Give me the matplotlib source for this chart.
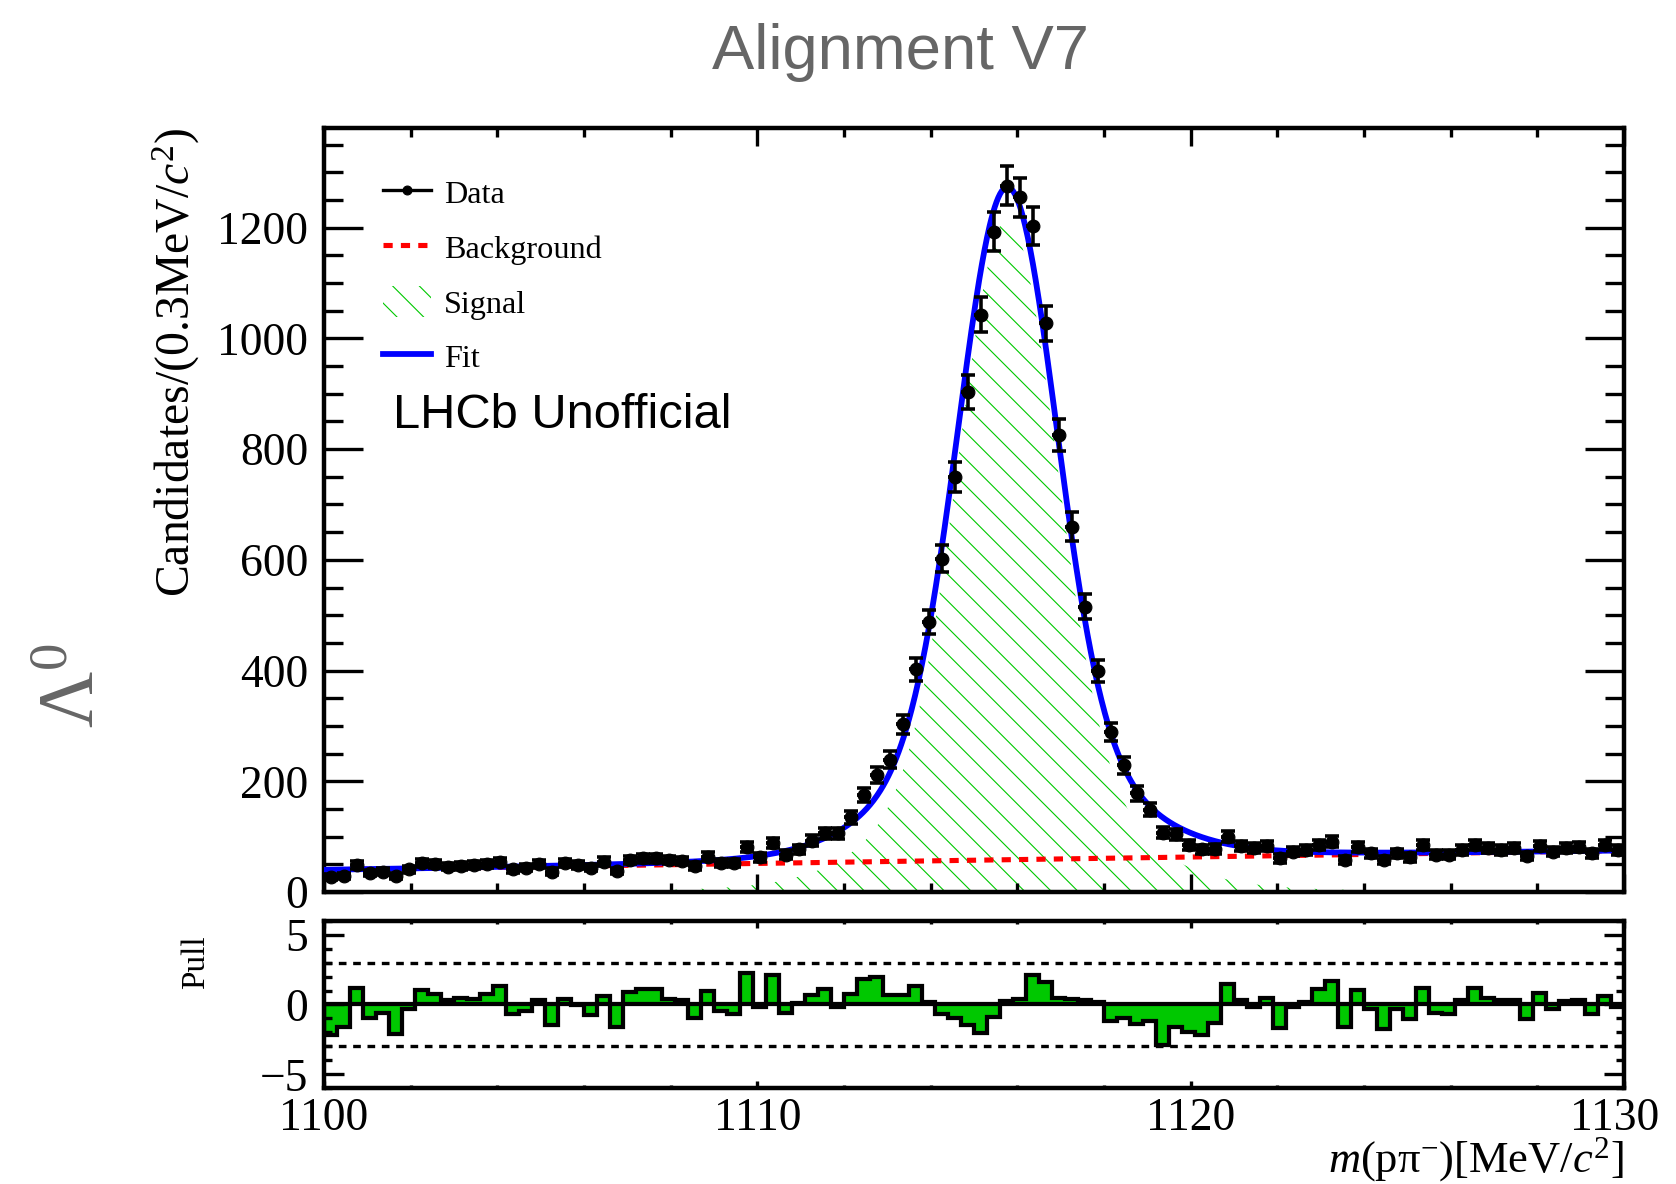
import numpy as np
import matplotlib
matplotlib.use("Agg")
import matplotlib.pyplot as plt
from matplotlib.ticker import MultipleLocator, FixedLocator
from matplotlib.lines import Line2D
from matplotlib.patches import Patch
import matplotlib.transforms as mtransforms

# ---------------- data ----------------
mass_lo, mass_hi, n_bins = 1100.0, 1130.0, 100

counts = [27, 29, 49, 34, 37, 29, 41, 52, 50, 46,
          47, 49, 50, 54, 41, 44, 50, 37, 52, 49,
          44, 55, 38, 58, 61, 61, 58, 56, 47, 64,
          53, 52, 82, 63, 88, 67, 77, 93, 106, 106,
          135, 175, 211, 239, 303, 402, 488, 602, 749, 903,
          1043, 1193, 1276, 1255, 1203, 1027, 826, 660, 515, 399,
          289, 229, 178, 149, 107, 104, 85, 77, 78, 100,
          83, 79, 83, 61, 73, 76, 85, 91, 58, 82,
          70, 58, 70, 63, 85, 67, 67, 76, 85, 79,
          76, 79, 65, 83, 73, 79, 82, 70, 85, 76]

pulls = [-2.2, -1.6, 1.2, -1.0, -0.6, -2.1, -0.3, 1.05, 0.75, 0.3,
         0.5, 0.4, 0.75, 1.3, -0.65, -0.5, 0.3, -1.45, 0.4, -0.05,
         -0.75, 0.6, -1.6, 0.9, 1.1, 1.1, 0.4, 0.3, -0.95, 0.95,
         -0.5, -0.65, 2.25, -0.2, 2.1, -0.6, 0.1, 0.65, 1.1, -0.2,
         0.75, 1.8, 2.0, 0.65, 0.65, 1.3, 0.15, -0.7, -1.0, -1.45,
         -2.05, -0.9, 0.25, 0.4, 2.1, 1.6, 0.5, 0.4, 0.3, 0.2,
         -1.15, -0.95, -1.4, -1.15, -2.9, -1.6, -2.0, -2.15, -1.3, 1.5,
         0.35, -0.15, 0.5, -1.7, -0.2, 0.2, 1.1, 1.7, -1.6, 1.05,
         -0.3, -1.75, -0.3, -1.05, 1.2, -0.6, -0.65, 0.3, 1.15, 0.5,
         0.35, 0.3, -1.05, 0.8, -0.3, 0.25, 0.35, -0.65, 0.6, -0.2]

# fit model parameters (signal: sum of gaussians, background: linear)
sig_mean = 1115.77
sig_peak = 1215.0
gauss_widths = [1.1, 2.2, 5.0]
gauss_fracs = [0.81, 0.18, 0.01]
bkg_at_lo = 40.0
bkg_slope = 1.16

legend_labels = ["Data", "Background", "Signal", "Fit"]
x_tick_labels = [1100, 1110, 1120, 1130]

# ---------------- style ----------------
DPI = 80
W, H = 1676, 1184
plt.rcParams["font.family"] = ["Liberation Serif", "DejaVu Serif"]
plt.rcParams["mathtext.fontset"] = "custom"
plt.rcParams["mathtext.rm"] = "Liberation Serif"
plt.rcParams["mathtext.it"] = "Liberation Serif:italic"
plt.rcParams["mathtext.bf"] = "Liberation Serif:bold"
plt.rcParams["hatch.linewidth"] = 1.0

GREEN = "#00c800"
GREY = "#666666"

fig = plt.figure(figsize=(W / DPI, H / DPI), dpi=DPI)

def fx(px):
    return px / W

def fy(py):
    return 1 - py / H

ax = fig.add_axes([fx(324), fy(892), fx(1300), 764 / H])
axp = fig.add_axes([fx(324), fy(1088.3), fx(1300), 167.6 / H])

edges = np.linspace(mass_lo, mass_hi, n_bins + 1)
centers = 0.5 * (edges[:-1] + edges[1:])
counts_a = np.array(counts, dtype=float)
half_bin = 0.5 * (mass_hi - mass_lo) / n_bins

m = np.linspace(mass_lo, mass_hi, 1501)
sig = np.zeros_like(m)
for w, f in zip(gauss_widths, gauss_fracs):
    sig += sig_peak * f * np.exp(-0.5 * ((m - sig_mean) / w) ** 2)
bkg = bkg_at_lo + bkg_slope * (m - mass_lo)
fit = sig + bkg

# ---------------- main panel ----------------
ax.fill_between(m, 0, sig, facecolor="none", edgecolor=GREEN, hatch="\\", linewidth=0, zorder=1)
ax.plot(m, bkg, color="red", lw=4.6, ls=(0, (1.8, 1.6)), zorder=2)
ax.plot(m, fit, color="blue", lw=5.2, zorder=3)
ax.errorbar(centers, counts_a, xerr=half_bin, fmt="none", ecolor="black",
            elinewidth=3.4, capsize=0, zorder=4)
ax.errorbar(centers, counts_a, yerr=np.sqrt(counts_a), fmt="o", color="black",
            mfc="black", mec="black", ms=11.5, elinewidth=3.2, capsize=6, capthick=3.2, zorder=5)

ax.set_xlim(mass_lo, mass_hi)
ax.set_ylim(0, 1380)
ax.xaxis.set_major_locator(MultipleLocator(10))
ax.xaxis.set_minor_locator(MultipleLocator(2))
ax.yaxis.set_major_locator(MultipleLocator(200))
ax.yaxis.set_minor_locator(MultipleLocator(50))
ax.tick_params(which="both", direction="in", top=True, right=True, width=3,
               labelsize=41, labelbottom=False)
ax.tick_params(axis="x", which="major", length=16)
ax.tick_params(axis="x", which="minor", length=8)
ax.tick_params(axis="y", which="major", length=35, pad=14)
ax.tick_params(axis="y", which="minor", length=17)
for s in ax.spines.values():
    s.set_linewidth(4)

handles = [
    Line2D([], [], color="black", lw=3, marker="o", ms=8),
    Line2D([], [], color="red", lw=4.6, ls=(0, (1.8, 1.6))),
    Patch(facecolor="none", edgecolor=GREEN, hatch="\\", lw=0),
    Line2D([], [], color="blue", lw=5.2),
]
ax.legend(handles, legend_labels, loc="upper left", bbox_to_anchor=(fx(383), fy(177)),
          bbox_transform=fig.transFigure, frameon=False, fontsize=29,
          handlelength=1.5, handletextpad=0.4, labelspacing=0.66, handleheight=1.1,
          borderpad=0, borderaxespad=0)

fig.text(fx(393), fy(428), "LHCb Unofficial", family="Liberation Sans", fontsize=44,
         ha="left", va="baseline", color="black")

# ---------------- pull panel ----------------
axp.stairs(pulls, edges, baseline=0, fill=True, color=GREEN, zorder=1)
axp.stairs(pulls, edges, baseline=0, color="black", lw=3.8, zorder=2)
axp.axhline(0, color="black", lw=3.8, zorder=3)
for lvl in (3, -3):
    axp.axhline(lvl, color="black", lw=3, ls=(0, (2.3, 2.0)), zorder=3)
axp.set_xlim(mass_lo, mass_hi)
axp.set_ylim(-6, 6)
axp.xaxis.set_major_locator(FixedLocator(x_tick_labels))
axp.xaxis.set_minor_locator(MultipleLocator(2))
axp.yaxis.set_major_locator(FixedLocator([-5, 0, 5]))
axp.yaxis.set_minor_locator(MultipleLocator(1))
axp.tick_params(which="both", direction="in", top=True, right=True, width=3, labelsize=41)
axp.tick_params(axis="x", which="major", length=6, pad=8)
axp.tick_params(axis="x", which="minor", length=3)
axp.tick_params(axis="y", which="major", length=18, pad=14)
axp.tick_params(axis="y", which="minor", length=7.5)
for s in axp.spines.values():
    s.set_linewidth(4)

# shift the last x tick label slightly left, as in the reference
fig.canvas.draw()
xlabels = axp.get_xticklabels()
if xlabels:
    last = xlabels[-1]
    last.set_transform(last.get_transform() +
                       mtransforms.ScaledTranslation(-9 / DPI, 0, fig.dpi_scale_trans))

# ---------------- labels ----------------
fig.text(fx(901), fy(69.5), "Alignment V7", family="Liberation Sans", fontsize=57,
         color=GREY, ha="center", va="baseline")
fig.text(fx(176), fy(128), r"Candidates/(0.3MeV/$c^{2}$)", fontsize=43,
         rotation=90, ha="center", va="top")
fig.text(fx(196), fy(962), "Pull", fontsize=30, rotation=90, ha="center", va="center")
fig.text(fx(1624), fy(1172), r"$m$(pπ$^{-}$)[MeV/$c^{2}$]", fontsize=40,
         ha="right", va="baseline")
fig.text(fx(74), fy(686), r"Λ$^{0}$", fontsize=70, color=GREY, rotation=90,
         ha="center", va="center")

fig.savefig("out.png", dpi=DPI)
